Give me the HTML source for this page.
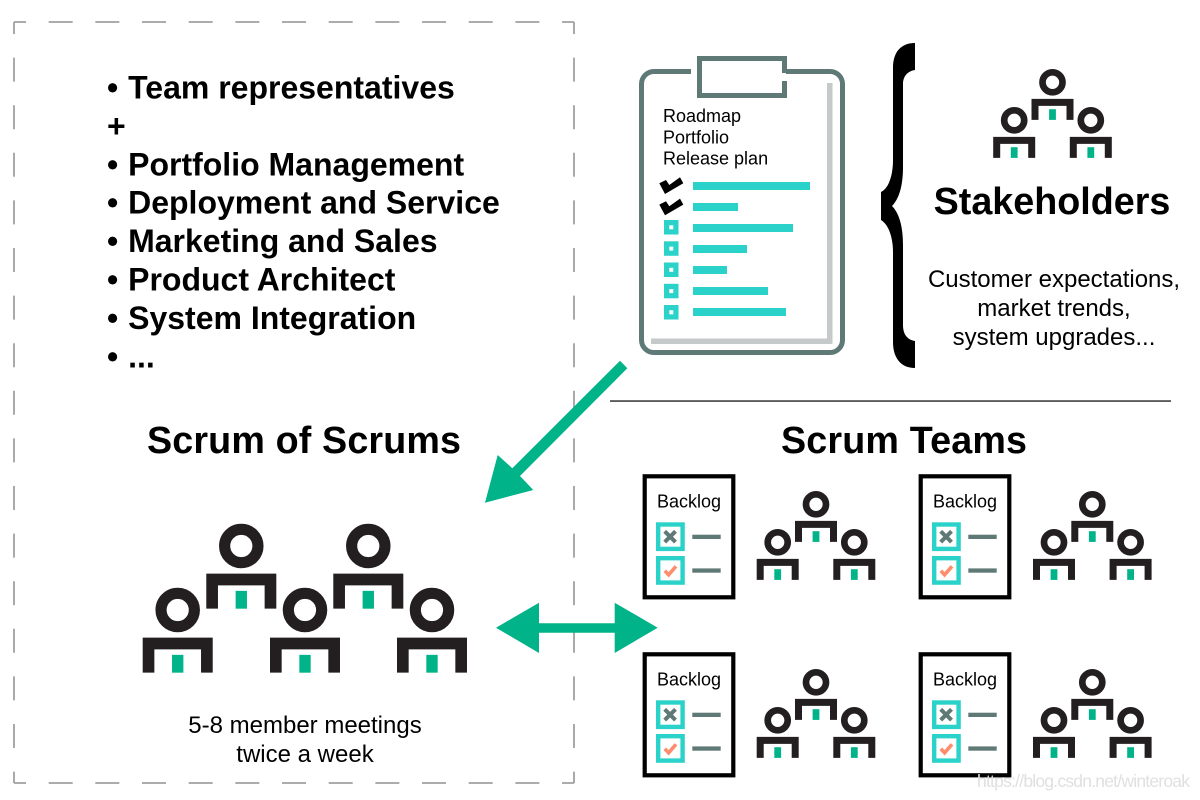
<!DOCTYPE html>
<html>
<head>
<meta charset="utf-8">
<style>
html,body{margin:0;padding:0;background:#fff;width:1200px;height:800px;overflow:hidden}
svg{display:block}
text{font-family:"Liberation Sans",Arial,sans-serif;fill:#000}
.b{font-weight:bold}
</style>
</head>
<body>
<svg width="1200" height="800" viewBox="0 0 1200 800" xmlns="http://www.w3.org/2000/svg">
<defs>
<g id="p">
<circle cx="0" cy="0" r="10" fill="none" stroke="#231f20" stroke-width="6.7"/>
<path d="M-21 16.6H21V37.6H14V23.6H-14V37.6H-21Z" fill="#231f20"/>
<rect x="-3.4" y="26.9" width="6.8" height="10.7" fill="#00b388"/>
</g>
<g id="t">
<use href="#p" x="0" y="0"/>
<use href="#p" x="-38.3" y="38"/>
<use href="#p" x="38.3" y="38"/>
</g>
<g id="doc">
<rect x="644.7" y="476.3" width="88.6" height="121" fill="#fff" stroke="#000" stroke-width="4.2"/>
<rect x="658.2" y="524.5" width="24.4" height="24.4" fill="#fff" stroke="#2ad2c9" stroke-width="4.4"/>
<rect x="658.2" y="558.2" width="24.4" height="24.4" fill="#fff" stroke="#2ad2c9" stroke-width="4.4"/>
<path d="M664.7 531.3L675.5 542.1M675.5 531.3L664.7 542.1" stroke="#5f7a76" stroke-width="4" fill="none"/>
<path d="M664.8 570.8L668.6 574.8L676 566.3" stroke="#ff8d6d" stroke-width="3.6" fill="none"/>
<rect x="692.3" y="534.7" width="28.4" height="4.3" fill="#5f7a76"/>
<rect x="692.3" y="568.4" width="28.4" height="4.3" fill="#5f7a76"/>
</g>
</defs>

<!-- dashed frame -->
<g fill="none" stroke="#a0a0a0" stroke-width="1.8">
<path d="M14 22H574" stroke-dasharray="24 22.67" stroke-dashoffset="12"/>
<path d="M14 783H574" stroke-dasharray="24 22.67" stroke-dashoffset="12"/>
<path d="M14 22V783" stroke-dasharray="24 23.6" stroke-dashoffset="12"/>
<path d="M574 22V783" stroke-dasharray="24 23.6" stroke-dashoffset="12"/>
</g>

<!-- list -->
<g class="b" font-size="32">
<text x="107" y="98.5">•<tspan dx="1"> Team representatives</tspan></text>
<text x="107" y="136.9">+</text>
<text x="107" y="175.3">•<tspan dx="1"> Portfolio Management</tspan></text>
<text x="107" y="213.7">•<tspan dx="1"> Deployment and Service</tspan></text>
<text x="107" y="252.1">•<tspan dx="1"> Marketing and Sales</tspan></text>
<text x="107" y="290.5">•<tspan dx="1"> Product Architect</tspan></text>
<text x="107" y="328.9">•<tspan dx="1"> System Integration</tspan></text>
<text x="107" y="367.3">•<tspan dx="1"> ...</tspan></text>
</g>

<!-- clipboard -->
<path d="M691 71.5H654A12.5 12.5 0 0 0 641.5 84V340A12.5 12.5 0 0 0 654 352.5H830A12.5 12.5 0 0 0 842.5 340V84A12.5 12.5 0 0 0 830 71.5H786" fill="none" stroke="#5f7a76" stroke-width="5"/>
<path d="M784.5 73V58.5H699.5V95.5H784.5V81" fill="none" stroke="#5f7a76" stroke-width="5"/>
<path d="M827 83H832.5V344H651V338.5H827Z" fill="#c6c9ca"/>
<text x="663" y="122" font-size="18">Roadmap</text>
<text x="663" y="143.3" font-size="18">Portfolio</text>
<text x="663" y="164.6" font-size="18">Release plan</text>
<path d="M659.3 183.3L665 194L683.3 183.3L680 177.3L669.3 185L666 180Z" fill="#000"/>
<path d="M659.3 204.6L665 215.3L683.3 204.6L680 198.6L669.3 206.3L666 201.3Z" fill="#000"/>
<g fill="#2ad2c9">
<rect x="693" y="182" width="117" height="8"/>
<rect x="693" y="203" width="45" height="8"/>
<rect x="693" y="224" width="100" height="8"/>
<rect x="693" y="245" width="54" height="8"/>
<rect x="693" y="266" width="34" height="8"/>
<rect x="693" y="287" width="75" height="8"/>
<rect x="693" y="308" width="93" height="8"/>
<rect x="664" y="220" width="14.5" height="14.5"/>
<rect x="664" y="241.3" width="14.5" height="14.5"/>
<rect x="664" y="262.5" width="14.5" height="14.5"/>
<rect x="664" y="283.8" width="14.5" height="14.5"/>
<rect x="664" y="305" width="14.5" height="14.5"/>
</g>
<g fill="#fff">
<rect x="669.3" y="225.3" width="4" height="4"/>
<rect x="669.3" y="246.6" width="4" height="4"/>
<rect x="669.3" y="267.8" width="4" height="4"/>
<rect x="669.3" y="289.1" width="4" height="4"/>
<rect x="669.3" y="310.3" width="4" height="4"/>
</g>

<!-- brace -->
<path d="M915 43C901 43 893 52 893 68V160C893 175 889 188 881 192V220C889 225 893 238 893 252V342C893 358 901 368 915 368V341C908 340 903 335 903 325V245C903 226 899 213 892 206C899 199 903 186 903 167V84C903 76 908 71 915 70Z" fill="#000"/>

<!-- stakeholders -->
<use href="#t" x="1052.5" y="82.3"/>
<text class="b" x="1052" y="214" font-size="37.7" text-anchor="middle">Stakeholders</text>
<text x="1054" y="287" font-size="24" text-anchor="middle">Customer expectations,</text>
<text x="1054" y="316" font-size="24" text-anchor="middle">market trends,</text>
<text x="1054" y="345" font-size="24" text-anchor="middle">system upgrades...</text>

<!-- divider -->
<rect x="610" y="400.3" width="561" height="1.5" fill="#333"/>

<!-- headings -->
<text class="b" x="147" y="453" font-size="37.7" textLength="314">Scrum of Scrums</text>
<text class="b" x="781" y="453" font-size="37.7" textLength="246">Scrum Teams</text>

<!-- arrows -->
<path d="M620 360.7L627.3 368.3L520 476L533.3 490L485 502.7L497.7 455L512.3 468.3Z" fill="#00b388"/>
<path d="M496 627.7L539 602.7V623.3H614.7V602.7L657.7 627.7L614.7 653V632.7H539V653Z" fill="#00b388"/>

<!-- scrum of scrums people -->
<g transform="translate(241.3 546) scale(1.667)"><use href="#p"/></g>
<g transform="translate(368.3 546) scale(1.667)"><use href="#p"/></g>
<g transform="translate(177.7 610) scale(1.667)"><use href="#p"/></g>
<g transform="translate(305 610) scale(1.667)"><use href="#p"/></g>
<g transform="translate(432 610) scale(1.667)"><use href="#p"/></g>
<text x="305" y="733" font-size="24" text-anchor="middle">5-8 member meetings</text>
<text x="305" y="762" font-size="24" text-anchor="middle">twice a week</text>

<!-- teams -->
<use href="#doc"/>
<use href="#doc" x="276"/>
<use href="#doc" y="178"/>
<use href="#doc" x="276" y="178"/>
<text x="657" y="507.7" font-size="18">Backlog</text>
<text x="933" y="507.7" font-size="18">Backlog</text>
<text x="657" y="685.7" font-size="18">Backlog</text>
<text x="933" y="685.7" font-size="18">Backlog</text>
<use href="#t" x="816" y="504.3"/>
<use href="#t" x="1092.3" y="504.3"/>
<use href="#t" x="816" y="682.3"/>
<use href="#t" x="1092.3" y="682.3"/>

<!-- watermark -->
<text x="977" y="787" font-size="17.5" textLength="213" style="fill:#e0e0e0">https://blog.csdn.net/winteroak</text>
</svg>
</body>
</html>
